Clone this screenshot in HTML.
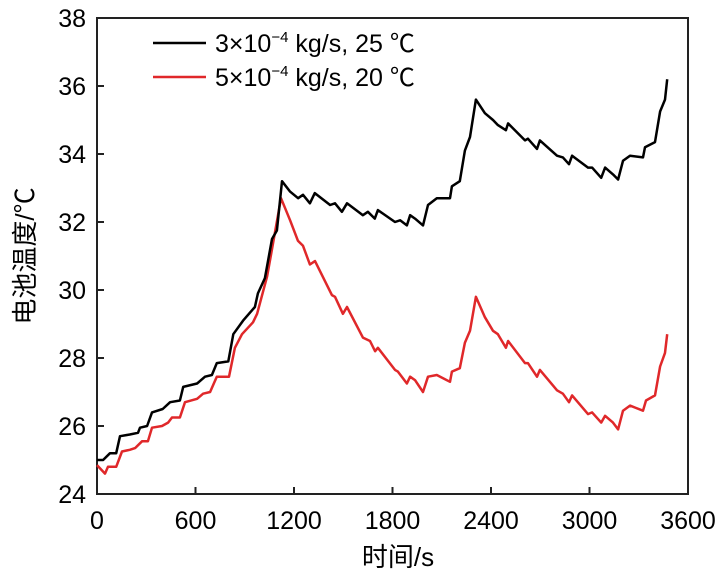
<!DOCTYPE html>
<html><head><meta charset="utf-8"><style>
body{margin:0;background:#fff}
svg text{font-family:"Liberation Sans","Noto Sans CJK SC",sans-serif;fill:#000}
</style></head><body>
<svg width="728" height="582" viewBox="0 0 728 582">
<g id="axes"></g>
<g id="series"></g>
<g>
<line x1="153" y1="43" x2="206" y2="43" stroke="#000" stroke-width="2.4"/>
<text x="215" y="52" font-size="25">3×10<tspan dy="-10" font-size="15">−4</tspan><tspan dy="10"> kg/s, 25 ℃</tspan></text>
<line x1="153" y1="77" x2="206" y2="77" stroke="#e0282a" stroke-width="2.4"/>
<text x="215" y="86" font-size="25">5×10<tspan dy="-10" font-size="15">−4</tspan><tspan dy="10"> kg/s, 20 ℃</tspan></text>
</g>
<text x="398" y="566" font-size="26" text-anchor="middle">时间/s</text>
<text transform="translate(34,256) rotate(-90)" font-size="26" text-anchor="middle">电池温度/℃</text>
</svg>
<script>
const xTicks=[0,600,1200,1800,2400,3000,3600];
const yTicks=[24,26,28,30,32,34,36,38];
const tBlack=[0,37,79,117,140,200,250,262,305,335,400,445,505,525,610,658,700,730,800,830,890,962,980,1023,1066,1096,1127,1175,1225,1255,1297,1327,1420,1450,1492,1523,1620,1650,1692,1711,1815,1846,1888,1907,1937,1986,2016,2070,2150,2162,2210,2241,2272,2308,2363,2412,2442,2491,2504,2607,2625,2680,2698,2802,2838,2875,2894,2991,3016,3071,3095,3143,3174,3204,3247,3326,3338,3399,3430,3460,3473];
const vBlack=[25.0,25.0,25.2,25.2,25.7,25.75,25.8,25.95,26.0,26.4,26.5,26.7,26.75,27.15,27.25,27.45,27.5,27.85,27.9,28.7,29.1,29.5,29.9,30.35,31.5,31.75,33.2,32.9,32.7,32.8,32.55,32.85,32.5,32.55,32.3,32.55,32.2,32.3,32.1,32.35,32.0,32.05,31.9,32.2,32.1,31.9,32.5,32.7,32.7,33.05,33.2,34.1,34.5,35.6,35.2,35.0,34.85,34.7,34.9,34.4,34.45,34.15,34.4,33.95,33.9,33.7,33.95,33.6,33.6,33.3,33.6,33.4,33.25,33.8,33.95,33.9,34.2,34.35,35.25,35.6,36.2];
const tRed=[0,49,67,117,152,200,232,274,310,335,396,433,457,505,536,610,646,689,730,804,840,883,950,975,1036,1066,1121,1176,1224,1255,1297,1328,1431,1450,1498,1523,1620,1663,1694,1711,1815,1833,1888,1907,1937,1986,2016,2070,2150,2162,2210,2241,2272,2308,2363,2412,2442,2491,2504,2607,2625,2680,2698,2802,2838,2875,2894,2991,3016,3071,3095,3143,3174,3204,3247,3326,3344,3399,3430,3460,3473];
const vRed=[24.85,24.6,24.8,24.8,25.25,25.3,25.35,25.55,25.55,25.95,26.0,26.1,26.25,26.25,26.7,26.8,26.95,27.0,27.45,27.45,28.3,28.7,29.05,29.3,30.4,31.2,32.7,32.05,31.45,31.3,30.75,30.85,29.85,29.8,29.3,29.5,28.6,28.5,28.2,28.3,27.65,27.6,27.25,27.45,27.35,27.0,27.45,27.5,27.3,27.6,27.7,28.45,28.8,29.8,29.2,28.8,28.7,28.3,28.5,27.85,27.85,27.45,27.65,27.05,26.95,26.7,26.9,26.35,26.4,26.1,26.3,26.1,25.9,26.45,26.6,26.45,26.75,26.9,27.75,28.15,28.7];
const L=97,R=688,T=18,B=494;
const X=t=>L+(t-0)/3600*(R-L);
const Y=v=>B-(v-24)/14*(B-T);
const NS="http://www.w3.org/2000/svg";
const ax=document.getElementById('axes');
function mk(tag,attrs,parent){const e=document.createElementNS(NS,tag);for(const k in attrs)e.setAttribute(k,attrs[k]);parent.appendChild(e);return e;}
const frame=mk('rect',{x:L,y:T,width:R-L,height:B-T,fill:'none',stroke:'#222','stroke-width':2},ax);


xTicks.forEach(t=>{
  const l=mk('line',{x1:X(t),x2:X(t),y1:B,y2:B-7,stroke:'#222','stroke-width':2},ax);
  
  
  const tx=mk('text',{x:X(t),y:529,'font-size':25,'text-anchor':'middle'},ax);
  tx.textContent=t;
  
  
});
yTicks.forEach(v=>{
  const l=mk('line',{x1:L,x2:L+7,y1:Y(v),y2:Y(v),stroke:'#222','stroke-width':2},ax);
  
  
  const tx=mk('text',{x:86,y:Y(v)+9,'font-size':25,'text-anchor':'end'},ax);
  tx.textContent=v;
  
  
});
const sg=document.getElementById('series');
function line(ts,vs,color,name){
  const d=ts.map((t,i)=>(i?'L':'M')+X(t).toFixed(1)+','+Y(vs[i]).toFixed(1)).join('');
  const p=mk('path',{d:d,fill:'none',stroke:color,'stroke-width':2.5,'stroke-linejoin':'round'},sg);
  
  
}
line(tRed,vRed,'#e0282a','series-red-5e-4');
line(tBlack,vBlack,'#000','series-black-3e-4');
</script>
</body></html>
